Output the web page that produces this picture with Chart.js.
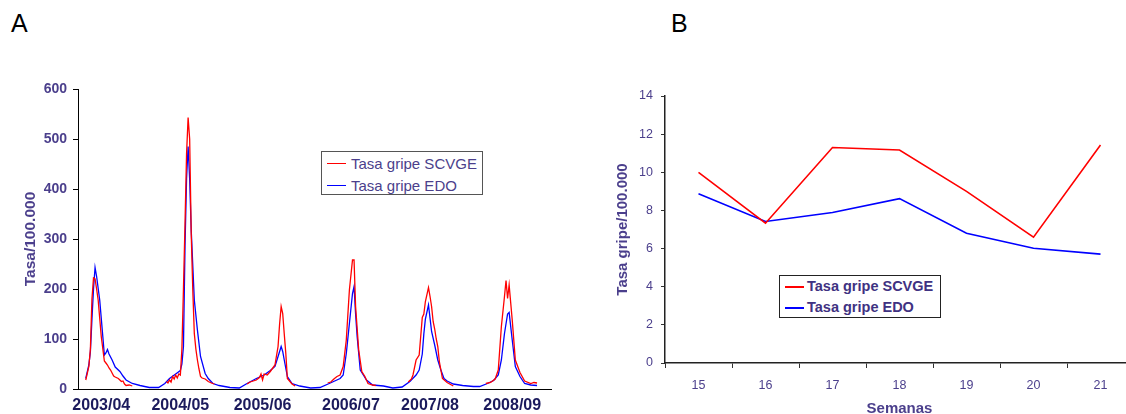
<!DOCTYPE html>
<html lang="es">
<head>
<meta charset="UTF-8" />
<title>Tasa gripe SCVGE vs EDO</title>
<script src="https://cdn.jsdelivr.net/npm/chart.js"></script>
<style>
  html, body { margin: 0; padding: 0; background: #fff; }
  #page {
    position: relative;
    width: 1126px;
    height: 414px;
    overflow: hidden;
    font-family: "Liberation Sans", Arial, sans-serif;
  }
  .panel { position: absolute; }
  .letter { position: absolute; font-size: 25px; color: #000; line-height: 1; }
  .legend {
    position: absolute;
    background: #fff;
    box-sizing: border-box;
  }
  .legend div { position: absolute; white-space: nowrap; line-height: 1; }
  .legend span.line { position: absolute; display: block; }
</style>
</head>
<body>
<div id="page">
  <div class="letter" style="left:11px; top:11px;">A</div>
  <div class="letter" style="left:671px; top:11px;">B</div>

  <div class="panel" style="left:0; top:0; width:560px; height:414px;">
    <canvas id="chartA" width="560" height="414"></canvas>
  </div>
  <div class="panel" style="left:590px; top:0; width:560px; height:430px;">
    <canvas id="chartB" width="560" height="430"></canvas>
  </div>

  <!-- legend A -->
  <div class="legend" style="left:321px; top:151px; width:162px; height:44px; border:1px solid #555;">
    <span class="line" style="left:5px; top:11px; width:19px; height:1.3px; background:#f00;"></span>
    <div style="left:29px; top:4px; font-size:15px; color:#4b3f8c;">Tasa gripe SCVGE</div>
    <span class="line" style="left:5px; top:33px; width:19px; height:1.3px; background:#00f;"></span>
    <div style="left:29px; top:26px; font-size:15px; color:#4b3f8c;">Tasa gripe EDO</div>
  </div>

  <!-- legend B -->
  <div class="legend" style="left:779px; top:275px; width:162px; height:43px; border:1.5px solid #222;">
    <span class="line" style="left:5px; top:10px; width:19px; height:2px; background:#f00;"></span>
    <div style="left:27px; top:3px; font-size:14.5px; font-weight:bold; color:#3f3282;">Tasa gripe SCVGE</div>
    <span class="line" style="left:5px; top:31px; width:19px; height:2px; background:#00f;"></span>
    <div style="left:27px; top:24px; font-size:14.5px; font-weight:bold; color:#3f3282;">Tasa gripe EDO</div>
  </div>
</div>

<script>
  // ---- Panel A: weekly rates, week 0 = week 40 of 2003 ----
  const seasonLabels = ['2003/04', '2004/05', '2005/06', '2006/07', '2007/08', '2008/09'];
  const seasonTickWeeks = [10, 61, 114, 171, 222, 275];

  const edoWeeks = [0, 2, 3, 4, 5, 6, 7, 9, 11, 12, 13, 14, 15, 17, 19, 22, 24, 26, 30, 35, 41, 47, 51,
    54, 58, 61, 62, 63, 64, 65, 66, 67, 68, 70, 72, 74, 77, 79, 82, 86, 93, 99,
    104, 110, 115, 119, 122, 124, 126, 127, 128, 130, 133, 138, 145, 151,
    157, 164, 166, 168, 170, 172, 173, 174, 175, 177, 179, 181, 185, 192, 198, 204,
    209, 213, 215, 217, 218, 219, 221, 223, 225, 227, 229, 231, 233, 237, 243, 250, 254,
    259, 263, 266, 268, 270, 272, 273, 275, 277, 280, 283, 287, 291];
  const edoRates = [21, 48, 75, 140, 200, 243, 225, 178, 105, 68, 72, 79, 70, 58, 44, 35, 26, 18, 11, 7, 3, 3, 11,
    21, 30, 37, 50, 85, 285, 420, 485, 420, 318, 178, 118, 65, 31, 21, 11, 7, 3, 2,
    11, 21, 28, 37, 45, 65, 85, 75, 58, 25, 11, 6, 2, 3,
    11, 21, 28, 71, 131, 191, 205, 150, 105, 38, 28, 18, 8, 6, 2, 4,
    15, 28, 38, 70, 110, 140, 168, 115, 88, 58, 38, 21, 16, 10, 7, 5, 5,
    11, 17, 28, 58, 111, 150, 153, 98, 45, 25, 11, 8, 7];

  // SCVGE only reports during the season (null = no data, line breaks)
  const scvgeWeeks = [0, 2, 3, 4, 5, 6, 7, 8, 10, 12, 13, 14, 15, 16, 18, 19, 21, 23, 24, 25, 26, 28, 30, 31,
    52, 53, 54, 55, 56, 57, 58, 59, 60, 61, 62, 63, 64, 65, 66, 67, 68, 69, 70, 71, 72, 73, 74, 75, 77, 79, 81, 83, 84,
    104, 106, 108, 110, 112, 113, 114, 115, 117, 119, 122, 124, 125, 126, 127, 128, 129, 130, 133, 135, 136,
    156, 158, 160, 162, 164, 166, 168, 170, 172, 173, 174, 176, 178, 180, 182, 185, 187, 188,
    208, 210, 211, 213, 215, 217, 218, 219, 221, 222, 223, 224, 225, 226, 227, 228, 230, 233, 237, 238,
    258, 261, 264, 266, 268, 270, 271, 272, 273, 275, 277, 280, 283, 287, 289, 291];
  const scvgeRates = [18, 45, 80, 180, 222, 220, 200, 178, 105, 56, 52, 48, 42, 38, 26, 24, 21, 15, 16, 10, 7, 8, 6, null,
    15, 12, 18, 14, 25, 20, 28, 22, 30, 28, 80, 200, 330, 470, 543, 500, 312, 200, 111, 80, 58, 40, 25, 22, 20, 15, 12, 10, null,
    10, 14, 16, 18, 23, 30, 18, 30, 28, 35, 48, 85, 130, 165, 151, 110, 71, 21, 10, 6, null,
    12, 14, 20, 25, 28, 45, 98, 198, 258, 258, 165, 78, 35, 25, 11, 8, 7, null,
    14, 20, 28, 58, 68, 143, 150, 175, 203, 185, 165, 135, 120, 100, 85, 55, 21, 13, 6, null,
    11, 13, 20, 38, 125, 185, 217, 181, 208, 138, 58, 33, 16, 11, 13, 12];

  // ---- Panel B: weeks 15-21 ----
  const semanas = ['15', '16', '17', '18', '19', '20', '21'];
  const scvgeSemanas = [10.0, 7.33, 11.3, 11.17, 9.0, 6.6, 11.43];
  const edoSemanas = [8.88, 7.42, 7.89, 8.62, 6.8, 6.02, 5.71];

  const FONT = '"Liberation Sans", Arial, sans-serif';
  const PURPLE = '#4b3f8c';
  const NAVY = '#1b1a5c';

  function fixWidth(w) { return scale => { scale.width = w; }; }
  function fixHeight(h) { return scale => { scale.height = h; }; }
  function pairs(xs, ys) { return xs.map((x, i) => ({ x: x, y: ys[i] })); }

  new Chart(document.getElementById('chartA'), {
    type: 'line',
    data: {
      datasets: [
        { label: 'Tasa gripe SCVGE', data: pairs(scvgeWeeks, scvgeRates), borderColor: '#ff0000', borderWidth: 1.3 },
        { label: 'Tasa gripe EDO', data: pairs(edoWeeks, edoRates), borderColor: '#0000ff', borderWidth: 1.3 }
      ]
    },
    options: {
      responsive: false,
      animation: false,
      spanGaps: false,
      elements: { point: { radius: 0 }, line: { tension: 0 } },
      layout: { padding: { top: 89, right: 9, bottom: 0, left: 0 } },
      plugins: { legend: { display: false }, tooltip: { enabled: false } },
      scales: {
        x: {
          type: 'linear',
          min: -5,
          max: 300,
          afterFit: fixHeight(25),
          afterBuildTicks: scale => { scale.ticks = seasonTickWeeks.map(v => ({ value: v })); },
          grid: { drawOnChartArea: false, drawTicks: false },
          border: { color: '#000', width: 1 },
          ticks: {
            autoSkip: false,
            maxRotation: 0,
            padding: 7,
            color: NAVY,
            font: { family: FONT, size: 16, weight: 'bold' },
            callback: (v, i) => seasonLabels[i]
          }
        },
        y: {
          min: 0,
          max: 600,
          afterFit: fixWidth(78),
          grid: { drawOnChartArea: false, tickLength: 5, color: '#000' },
          border: { color: '#000', width: 1 },
          ticks: { stepSize: 100, padding: 6, color: PURPLE, font: { family: FONT, size: 14, weight: 'bold' } },
          title: {
            display: true,
            text: 'Tasa/100.000',
            color: PURPLE,
            padding: { top: 21, bottom: 0 },
            font: { family: FONT, size: 15.5, weight: 'bold' }
          }
        }
      }
    }
  });

  new Chart(document.getElementById('chartB'), {
    type: 'line',
    data: {
      labels: semanas,
      datasets: [
        { label: 'Tasa gripe SCVGE', data: scvgeSemanas, borderColor: '#ff0000', borderWidth: 1.6 },
        { label: 'Tasa gripe EDO', data: edoSemanas, borderColor: '#0000ff', borderWidth: 1.6 }
      ]
    },
    options: {
      responsive: false,
      animation: false,
      elements: { point: { radius: 0 }, line: { tension: 0 } },
      layout: { padding: { top: 96, right: 16, bottom: 0, left: 0 } },
      plugins: { legend: { display: false }, tooltip: { enabled: false } },
      scales: {
        x: {
          offset: true,
          afterFit: fixHeight(67),
          grid: { drawOnChartArea: false, offset: true, tickLength: 5, color: '#333' },
          border: { color: '#222', width: 1.5 },
          ticks: { padding: 10, color: PURPLE, font: { family: FONT, size: 12.5 } },
          title: {
            display: true,
            text: 'Semanas',
            color: PURPLE,
            padding: { top: 0, bottom: 12 },
            font: { family: FONT, size: 15, weight: 'bold' }
          }
        },
        y: {
          min: 0,
          max: 14,
          afterFit: fixWidth(75),
          grid: { drawOnChartArea: false, tickLength: 4, color: '#333' },
          border: { color: '#222', width: 1.5 },
          ticks: { stepSize: 2, padding: 8, color: PURPLE, font: { family: FONT, size: 12.5 } },
          title: {
            display: true,
            text: 'Tasa gripe/100.000',
            color: PURPLE,
            padding: { top: 24, bottom: 0 },
            font: { family: FONT, size: 15, weight: 'bold' }
          }
        }
      }
    }
  });
</script>
</body>
</html>
